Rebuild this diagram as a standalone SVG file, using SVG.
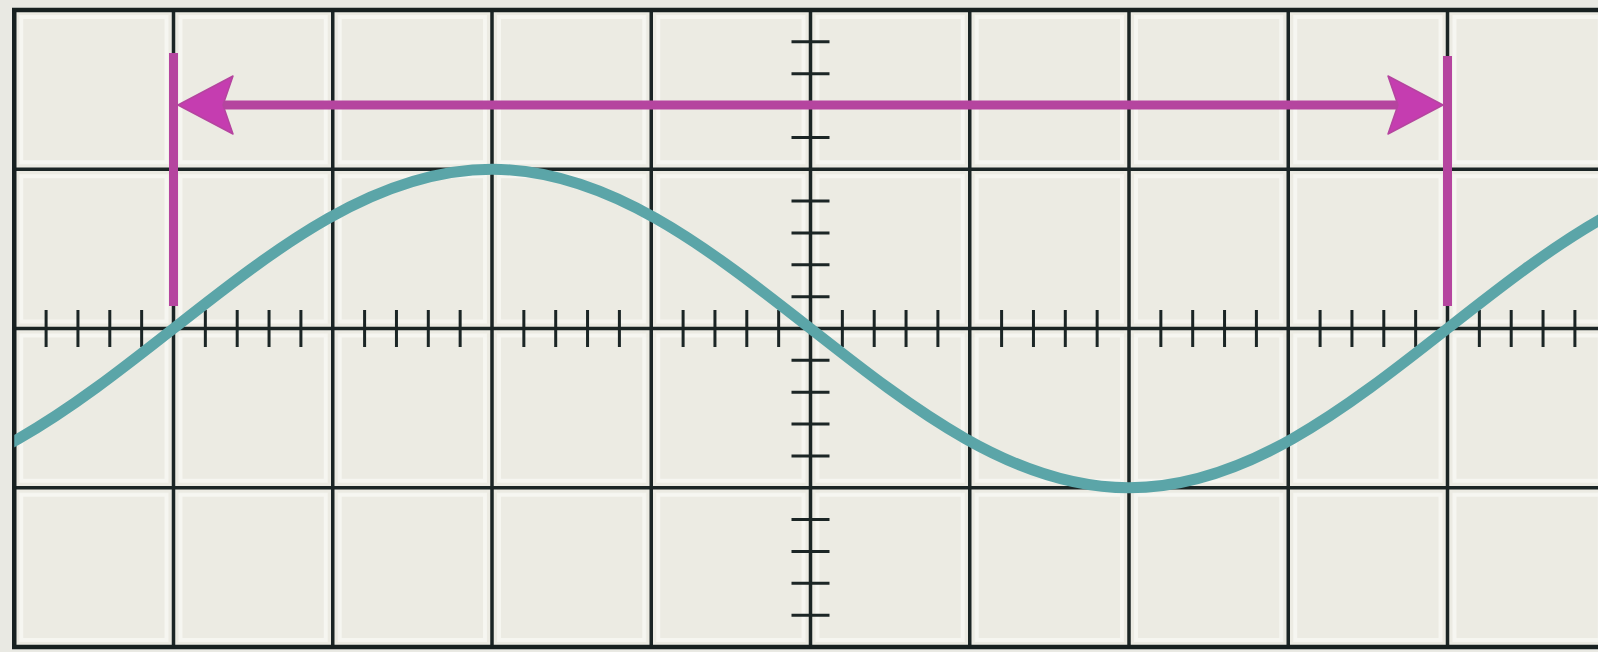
<svg xmlns="http://www.w3.org/2000/svg" xmlns:xlink="http://www.w3.org/1999/xlink" width="1598" height="652" viewBox="0 0 1598 652">
  <style>
    .grid { stroke: #1b2525; stroke-width: 3.5; fill: none; stroke-linecap: square; }
    .border { stroke: #172020; stroke-width: 4.5; fill: none; }
    .tick { stroke: #1b2525; stroke-width: 3; fill: none; }
    .wave { stroke: #5ba5a8; stroke-width: 11; fill: none; stroke-linecap: round; }
    .marker-line { stroke: #b5459f; stroke-width: 9; fill: none; }
    .head { fill: #c53db0; stroke: #b5459f; stroke-width: 1.5; stroke-linejoin: round; }
  </style>
  <defs>
    <pattern id="cell" patternUnits="userSpaceOnUse" x="14.25" y="10" width="159.25" height="159.25">
      <rect x="0" y="0" width="159.25" height="159.25" fill="#ecebe3"/>
      <rect x="7" y="7" width="145.25" height="145.25" fill="none" stroke="#f6f6f1" stroke-width="4"/>
    </pattern>
    <clipPath id="plot">
      <rect x="14.25" y="10" width="1584" height="637"/>
    </clipPath>
    <path id="head" d="M0,0 L55,-29 L45,0 L55,29 Z"/>
  </defs>

  <rect x="0" y="0" width="1598" height="652" fill="#e9e9e3"/>
  <rect x="14.25" y="10" width="1584" height="637" fill="url(#cell)"/>

  <g id="grid">
    <path class="grid" d="M173.5 10V647 M332.75 10V647 M492 10V647 M651.25 10V647 M810.5 10V647 M969.75 10V647 M1129 10V647 M1288.25 10V647 M1447.5 10V647"/>
    <path class="grid" d="M14.25 169.25H1598 M14.25 328.5H1598 M14.25 487.75H1598"/>
    <path class="border" d="M1598 10H14.25V647H1598"/>
  </g>

  <g id="ticks">
    <path class="tick" d="M46.1 310V347 M77.95 310V347 M109.8 310V347 M141.65 310V347 M205.35 310V347 M237.2 310V347 M269.05 310V347 M300.9 310V347 M364.6 310V347 M396.45 310V347 M428.3 310V347 M460.15 310V347 M523.85 310V347 M555.7 310V347 M587.55 310V347 M619.4 310V347 M683.1 310V347 M714.95 310V347 M746.8 310V347 M778.65 310V347 M842.35 310V347 M874.2 310V347 M906.05 310V347 M937.9 310V347 M1001.6 310V347 M1033.45 310V347 M1065.3 310V347 M1097.15 310V347 M1160.85 310V347 M1192.7 310V347 M1224.55 310V347 M1256.4 310V347 M1320.1 310V347 M1351.95 310V347 M1383.8 310V347 M1415.65 310V347 M1479.35 310V347 M1511.2 310V347 M1543.05 310V347 M1574.9 310V347"/>
    <path class="tick" d="M791.5 41.85H829.5 M791.5 73.7H829.5 M791.5 105.55H829.5 M791.5 137.4H829.5 M791.5 201.1H829.5 M791.5 232.95H829.5 M791.5 264.8H829.5 M791.5 296.65H829.5 M791.5 360.35H829.5 M791.5 392.2H829.5 M791.5 424.05H829.5 M791.5 455.9H829.5 M791.5 519.6H829.5 M791.5 551.45H829.5 M791.5 583.3H829.5 M791.5 615.15H829.5"/>
  </g>

  <g id="wave" clip-path="url(#plot)">
    <path class="wave" d="M-145 487.75 C-29.73 487.75 69.63 410.08 173.5 328.5 C277.37 246.92 376.73 169.25 492 169.25 C607.27 169.25 706.63 246.92 810.5 328.5 C914.37 410.08 1013.73 487.75 1129 487.75 C1244.27 487.75 1343.63 410.08 1447.5 328.5 C1551.37 246.92 1650.73 169.25 1766 169.25"/>
  </g>

  <g id="connectors">
    <g id="period-marker">
      <path class="marker-line" d="M173.5 53V306 M1447.5 56V306"/>
      <path class="marker-line" d="M222 105H1399"/>
      <use href="#head" xlink:href="#head" class="head" transform="translate(178,105)"/>
      <use href="#head" xlink:href="#head" class="head" transform="translate(1443,105) scale(-1,1)"/>
    </g>
  </g>
</svg>
